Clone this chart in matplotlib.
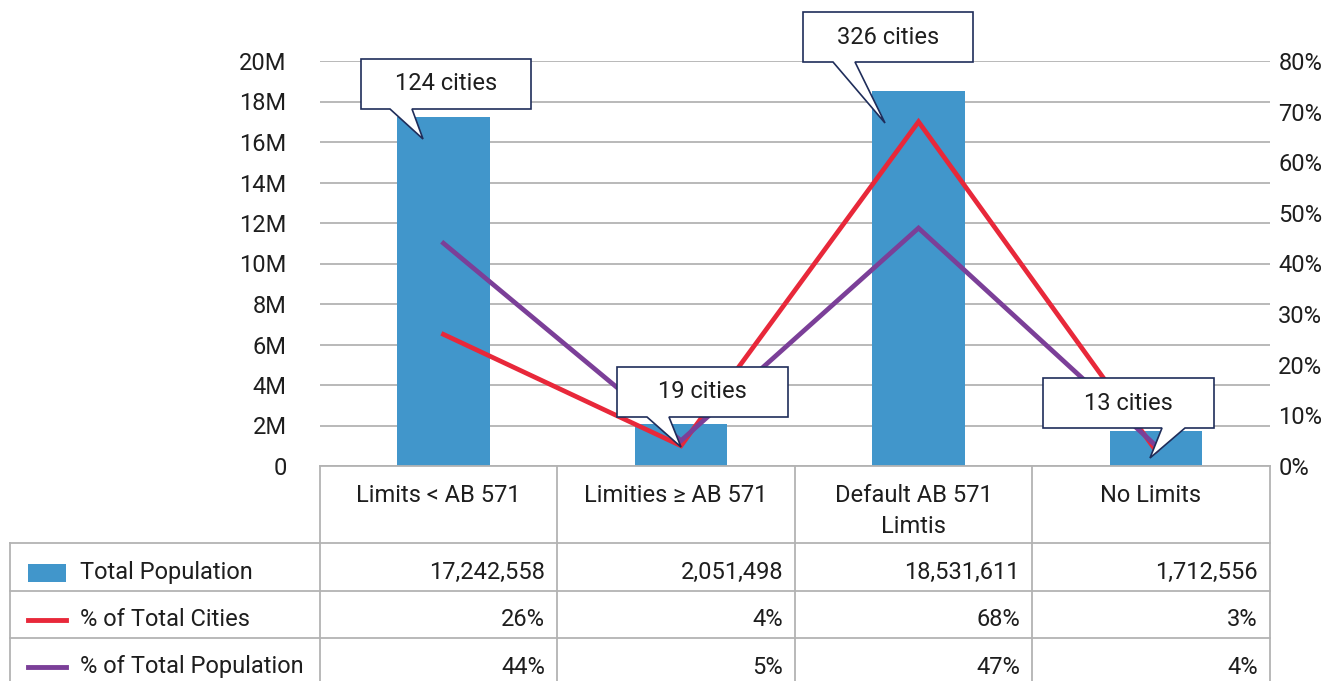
import matplotlib
matplotlib.use("Agg")
import matplotlib.pyplot as plt
from matplotlib.patches import Polygon, Rectangle
from matplotlib.lines import Line2D
from matplotlib.ticker import FuncFormatter, MultipleLocator

# ---- data ----
categories = ["Limits < AB 571", "Limities ≥ AB 571", "Default AB 571\nLimtis", "No Limits"]
total_population = [17242558, 2051498, 18531611, 1712556]
pct_total_cities = [26, 4, 68, 3]
pct_total_population = [44, 5, 47, 4]
city_counts = [124, 19, 326, 13]
series_names = ["Total Population", "% of Total Cities", "% of Total Population"]

BLUE = "#4196CB"
RED = "#E8283A"
PURPLE = "#7B3F98"
GRID = "#b3b3b3"
TXT = "#1e1e1e"
NAVY = "#1F2D5A"
FONT = ["Roboto", "DejaVu Sans"]
FS = 17

plt.rcParams["font.family"] = FONT

W, H = 1338, 681
fig = plt.figure(figsize=(W / 100, H / 100), dpi=100)


def fx(x):
    return x / W


def fy(y):
    return 1 - y / H


# plot area
ax_l, ax_r, ax_t, ax_b = 320, 1270, 61, 466
ax = fig.add_axes([fx(ax_l), fy(ax_b), (ax_r - ax_l) / W, (ax_b - ax_t) / H])
x = list(range(len(categories)))
ax.bar(x, total_population, width=0.39, color=BLUE, zorder=2)
ax.set_xlim(-0.52, len(categories) - 0.52)
ax.set_ylim(0, 20e6)
ax.yaxis.set_major_locator(MultipleLocator(2e6))
ax.yaxis.set_major_formatter(FuncFormatter(lambda v, p: "0" if v == 0 else f"{v/1e6:.0f}M"))
ax.grid(axis="y", color=GRID, linewidth=1.3, zorder=0)
ax.set_axisbelow(True)
for s in ["top", "left", "right"]:
    ax.spines[s].set_visible(False)
ax.spines["bottom"].set_color(GRID)
ax.spines["bottom"].set_linewidth(1.3)
ax.set_xticks([])
ax.tick_params(axis="y", length=0, pad=24, labelsize=FS, labelcolor=TXT)

ax2 = ax.twinx()
ax2.set_ylim(0, 80)
ax2.yaxis.set_major_locator(MultipleLocator(10))
ax2.yaxis.set_major_formatter(FuncFormatter(lambda v, p: f"{v:.0f}%"))
ax2.plot(x, pct_total_cities, color=RED, linewidth=3.4, zorder=3, solid_joinstyle="miter")
ax2.plot(x, pct_total_population, color=PURPLE, linewidth=3.4, zorder=3, solid_joinstyle="miter")
for s in ["top", "left", "right", "bottom"]:
    ax2.spines[s].set_visible(False)
ax2.tick_params(axis="y", length=0, pad=6, labelsize=FS, labelcolor=TXT)

# ---- callouts (pixel geometry) ----
callouts = [
    ((361, 59, 531, 109), (390, 412), (423, 139)),
    ((617, 367, 788, 417), (647, 669), (681, 447)),
    ((803, 12, 973, 62), (833, 855), (885, 123)),
    ((1043, 378, 1214, 428), (1162, 1185), (1150, 458)),
]
for (box, base, tip), n in zip(callouts, city_counts):
    x0, y0, x1, y1 = box
    pts = [(x0, y0), (x1, y0), (x1, y1), (base[1], y1), tip, (base[0], y1), (x0, y1)]
    poly = Polygon([(fx(a), fy(b)) for a, b in pts], closed=True, transform=fig.transFigure,
                   facecolor="white", edgecolor=NAVY, linewidth=1.2, zorder=10)
    fig.patches.append(poly)
    fig.text(fx((x0 + x1) / 2), fy((y0 + y1) / 2), f"{n} cities", ha="center", va="center",
             fontsize=FS, color=TXT, zorder=11)

# ---- data table ----
col_edges = [320, 557, 795, 1032, 1270]
row_lines = [543, 591, 638]
lw = 1.3


def hline(y, xa, xb):
    fig.lines.append(Line2D([fx(xa), fx(xb)], [fy(y), fy(y)], transform=fig.transFigure, color=GRID, linewidth=lw))


def vline(xv, ya, yb):
    fig.lines.append(Line2D([fx(xv), fx(xv)], [fy(ya), fy(yb)], transform=fig.transFigure, color=GRID, linewidth=lw))


for y in row_lines:
    hline(y, 10, 1270)
vline(10, 543, 681)
for xv in col_edges:
    vline(xv, 466, 681)

for i, c in enumerate(categories):
    cx = (col_edges[i] + col_edges[i + 1]) / 2
    fig.text(fx(cx), fy(484), c, ha="center", va="top", fontsize=FS, color=TXT, linespacing=1.45)

row_y = [572, 620, 667]
rows = [
    [f"{v:,}" for v in total_population],
    [f"{v}%" for v in pct_total_cities],
    [f"{v}%" for v in pct_total_population],
]
for r, (vals, yy) in enumerate(zip(rows, row_y)):
    for i, v in enumerate(vals):
        fig.text(fx(col_edges[i + 1] - 12), fy(yy), v, ha="right", va="center", fontsize=FS, color=TXT)
    fig.text(fx(80), fy(yy), series_names[r], ha="left", va="center", fontsize=FS, color=TXT)

# legend keys
fig.patches.append(Rectangle((fx(28), fy(582)), fx(66) - fx(28), fy(564) - fy(582),
                             transform=fig.transFigure, facecolor=BLUE, edgecolor="none"))
for yy, col in [(620, RED), (667, PURPLE)]:
    fig.lines.append(Line2D([fx(28), fx(66)], [fy(yy), fy(yy)], transform=fig.transFigure,
                            color=col, linewidth=3.5))

fig.savefig("out.png", dpi=100)
